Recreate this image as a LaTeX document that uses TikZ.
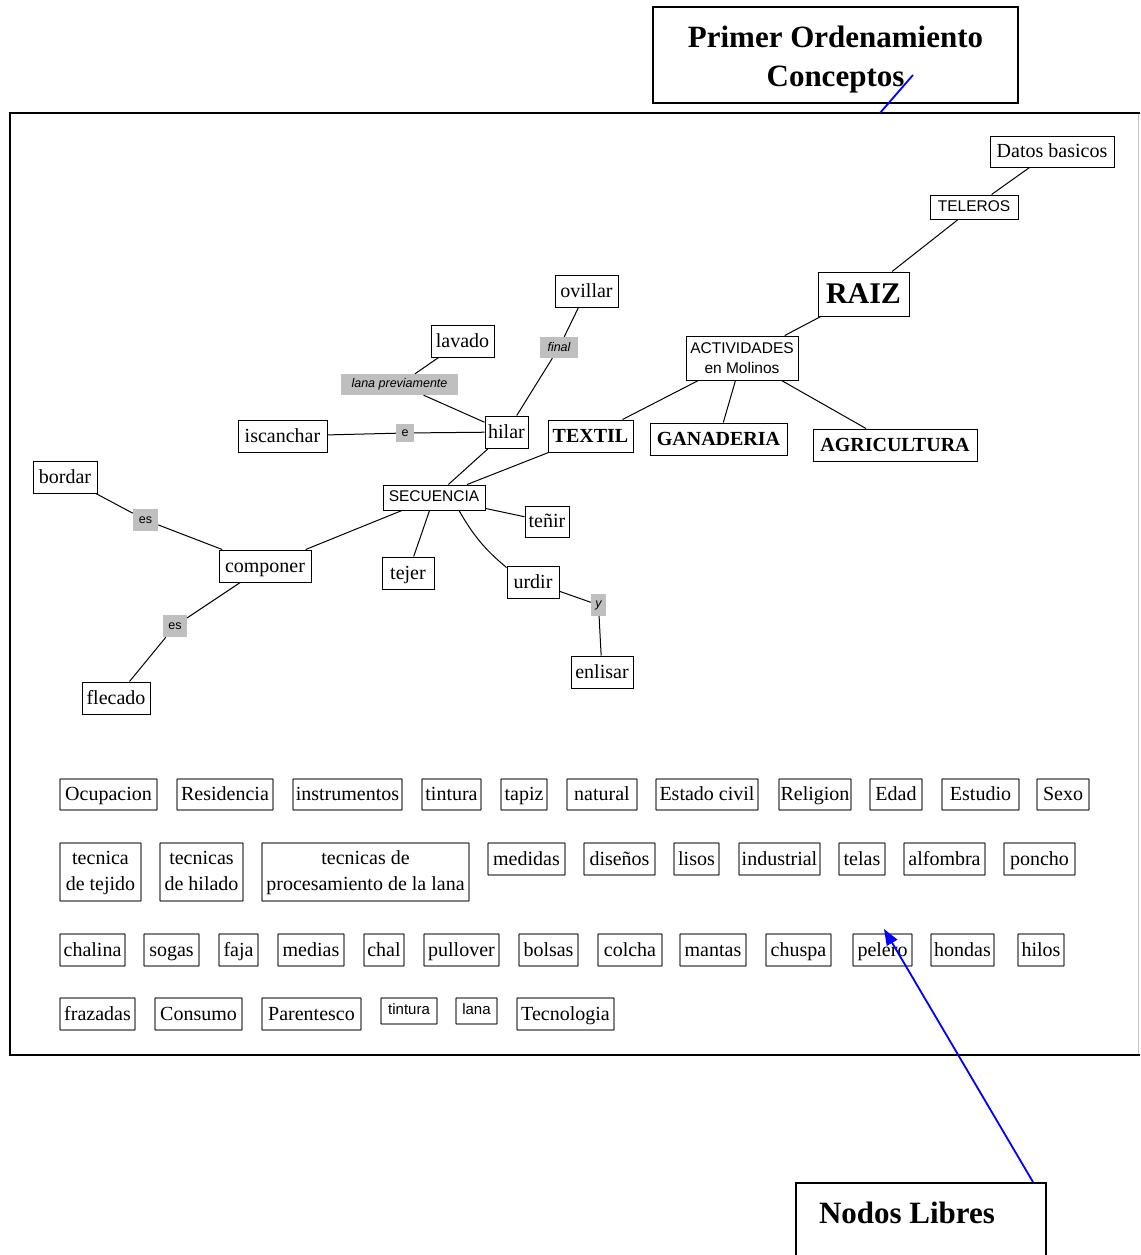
\documentclass[tikz,border=0pt]{standalone}
\usepackage{fontspec}
\setmainfont{Liberation Serif}
\setsansfont{Liberation Sans}
\usetikzlibrary{arrows.meta}
\newcommand\bx[7]{\node[#6, minimum width={#4pt-#2pt}, minimum height={#5pt-#3pt}] (#1) at ({(#2+#4)/2},{(#3+#5)/2}) {#7};}
\newcommand\dstrut{\rule[-5pt]{0pt}{5pt}}
\tikzset{
 cboxm/.style={draw=black, line width=1pt, inner sep=0pt, align=center, font=\fontsize{20}{26}\selectfont},
 cbox/.style={cboxm, text height=15pt, text depth=3pt},
 bbox/.style={cbox, font=\fontsize{20}{24}\selectfont\bfseries},
 sboxm/.style={cboxm, font=\fontsize{15.5}{20}\selectfont\sffamily},
 sbox/.style={sboxm, text height=11.5pt, text depth=2.8pt},
 freeboxm/.style={draw=black!75, line width=1.4pt, rounded corners=0.6pt, inner sep=0pt, align=center, font=\fontsize{20}{26}\selectfont},
 freebox/.style={freeboxm, text height=15pt, text depth=3pt},
 freesans/.style={freeboxm, font=\fontsize{15}{18}\selectfont\sffamily, text height=11pt, text depth=3.2pt},
 lbl/.style={fill=black!25, inner sep=0pt, font=\fontsize{12.5}{14}\selectfont\sffamily\itshape},
 lblup/.style={fill=black!25, inner sep=0pt, font=\fontsize{12.5}{14}\selectfont\sffamily},
 link/.style={draw=black, line width=1pt},
 callout/.style={draw=black, line width=1.8pt, inner sep=0pt, font=\fontsize{31}{39}\selectfont\bfseries, align=center},
 blueline/.style={draw=blue, line width=1.8pt},
}
\begin{document}
\begin{tikzpicture}[x=1pt,y=-1pt]
\useasboundingbox (0,0) rectangle (1140,1255);
\clip (0,0) rectangle (1140,1255);
\fill[white] (0,0) rectangle (1140,1255);
% frame
\draw[line width=2pt] (1140,113) -- (10,113) -- (10,1055) -- (1140,1055);
\draw[black!25, line width=1pt] (1138,114) -- (1138,1054);
% callouts
\node[callout, minimum width=365pt, minimum height=96pt] (title) at (835.5,55) {\rule{0pt}{30pt}Primer Ordenamiento\\Conceptos};
\node[draw=black, line width=1.8pt, minimum width=250pt, minimum height=110pt, anchor=north west, inner sep=0pt] (nodos) at (795,1182) {};
\node[font=\fontsize{31}{39}\selectfont\bfseries, inner sep=0pt] (nodostxt) at (907,1213) {Nodos Libres};
% concept map nodes
\bx{datos}{990}{136}{1114}{167}{cbox}{Datos basicos}
\bx{teleros}{930}{195}{1018}{219}{sbox}{TELEROS}
\bx{raiz}{818}{272}{909}{316}{cboxm, font=\fontsize{30}{34}\selectfont\bfseries}{RAIZ}
\bx{activ}{686}{336}{798}{380}{sboxm}{ACTIVIDADES\\en Molinos}
\bx{textil}{548}{420}{633}{452}{bbox}{TEXTIL}
\bx{ganad}{650}{423}{787}{455}{bbox}{GANADERIA}
\bx{agri}{813}{429}{977}{461}{bbox}{AGRICULTURA}
\bx{ovillar}{555}{275}{618}{307}{cbox}{ovillar}
\bx{lavado}{431}{325}{494}{357}{cbox}{lavado}
\bx{lanap}{341}{374}{458}{395}{lbl}{lana previamente}
\bx{final}{540}{337}{578}{358}{lbl}{final}
\bx{iscanchar}{238}{420}{327}{452}{cbox}{iscanchar}
\bx{lble}{396}{424}{414}{442}{lblup}{e}
\bx{hilar}{485}{416}{528}{448}{cbox}{hilar}
\bx{secuencia}{383}{485}{485}{510}{sbox}{SECUENCIA}
\bx{bordar}{33}{461}{97}{493}{cbox}{bordar}
\bx{esa}{133}{509}{158}{531}{lblup}{es}
\bx{componer}{219}{550}{311}{582}{cbox}{componer}
\bx{esb}{163}{615}{187}{637}{lblup}{es}
\bx{flecado}{82}{682}{150}{714}{cbox}{flecado}
\bx{tejer}{382}{557}{434}{589}{cbox}{tejer}
\bx{tenir}{525}{506}{569}{537}{cbox}{teñir}
\bx{urdir}{507}{566}{559}{598}{cbox}{urdir}
\bx{lbly}{591}{594}{606}{616}{lbl}{y}
\bx{enlisar}{571}{656}{633}{688}{cbox}{enlisar}
% connectors
\draw[link] (datos) -- (teleros);
\draw[link] (teleros) -- (raiz);
\draw[link] (raiz) -- (activ);
\draw[link] (activ) -- (textil);
\draw[link] (activ) -- (ganad);
\draw[link] (activ) -- (agri);
\draw[link] (textil) -- (secuencia);
\draw[link] (hilar) -- (secuencia);
\draw[link] (lavado) -- (lanap);
\draw[link] (lanap) -- (hilar);
\draw[link] (ovillar) -- (final);
\draw[link] (final) -- (hilar);
\draw[link] (iscanchar) -- (lble);
\draw[link] (lble) -- (hilar);
\draw[link] (secuencia) -- (componer);
\draw[link] (componer) -- (esa);
\draw[link] (esa) -- (bordar);
\draw[link] (componer) -- (esb);
\draw[link] (esb) -- (flecado);
\draw[link] (secuencia) -- (tejer);
\draw[link] (secuencia) -- (tenir);
\draw[link] ([xshift=25pt]secuencia.south) to[out=-60,in=140] ([yshift=-2pt]urdir.north west);
\draw[link] (urdir) -- (lbly);
\draw[link] (lbly) -- (enlisar);
% free nodes row 1
\bx{f1}{60}{779}{157}{810}{freebox}{Ocupacion}
\bx{f2}{177}{779}{273}{810}{freebox}{Residencia}
\bx{f3}{293}{779}{402}{810}{freebox}{instrumentos}
\bx{f4}{422}{779}{481}{810}{freebox}{tintura}
\bx{f5}{501}{779}{547}{810}{freebox}{tapiz}
\bx{f6}{567}{779}{637}{810}{freebox}{natural}
\bx{f7}{656}{779}{758}{810}{freebox}{Estado civil}
\bx{f8}{779}{779}{851}{810}{freebox}{Religion}
\bx{f9}{870}{779}{922}{810}{freebox}{Edad}
\bx{f10}{942}{779}{1019}{810}{freebox}{Estudio}
\bx{f11}{1037}{779}{1089}{810}{freebox}{Sexo}
% row 2
\bx{g1}{60}{843}{141}{901}{freeboxm}{\rule{0pt}{16pt}tecnica\\de tejido\dstrut}
\bx{g2}{160}{843}{243}{901}{freeboxm}{\rule{0pt}{16pt}tecnicas\\de hilado\dstrut}
\bx{g3}{262}{843}{469}{901}{freeboxm}{\rule{0pt}{16pt}tecnicas de\\procesamiento de la lana\dstrut}
\bx{g4}{488}{843}{565}{875}{freebox}{medidas}
\bx{g5}{584}{843}{655}{875}{freebox}{diseños}
\bx{g6}{674}{843}{719}{875}{freebox}{lisos}
\bx{g7}{739}{843}{820}{875}{freebox}{industrial}
\bx{g8}{839}{843}{885}{875}{freebox}{telas}
\bx{g9}{904}{843}{985}{875}{freebox}{alfombra}
\bx{g10}{1004}{843}{1075}{875}{freebox}{poncho}
% row 3
\bx{h1}{60}{934}{125}{966}{freebox}{chalina}
\bx{h2}{144}{934}{199}{966}{freebox}{sogas}
\bx{h3}{219}{934}{258}{966}{freebox}{faja}
\bx{h4}{278}{934}{344}{966}{freebox}{medias}
\bx{h5}{364}{934}{404}{966}{freebox}{chal}
\bx{h6}{424}{934}{499}{966}{freebox}{pullover}
\bx{h7}{519}{934}{578}{966}{freebox}{bolsas}
\bx{h8}{598}{934}{662}{966}{freebox}{colcha}
\bx{h9}{680}{934}{746}{966}{freebox}{mantas}
\bx{h10}{766}{934}{831}{966}{freebox}{chuspa}
\bx{h11}{853}{934}{912}{966}{freebox}{pelero}
\bx{h12}{931}{934}{994}{966}{freebox}{hondas}
\bx{h13}{1018}{934}{1064}{966}{freebox}{hilos}
% row 4
\bx{k1}{60}{998}{135}{1030}{freebox}{frazadas}
\bx{k2}{155}{998}{242}{1030}{freebox}{Consumo}
\bx{k3}{262}{998}{361}{1030}{freebox}{Parentesco}
\bx{k4}{381}{998}{437}{1024}{freesans}{tintura}
\bx{k5}{456}{998}{497}{1024}{freesans}{lana}
\bx{k6}{517}{998}{614}{1030}{freebox}{Tecnologia}
% blue pointers
\coordinate (tA) at (880,113);
\coordinate (tB) at (913,75);
\draw[blueline] (tA) -- (tB);
\coordinate (arrtail) at (1033,1182);
\coordinate (arrtip) at (884,929);
\draw[blueline, -{Triangle[length=16pt,width=12pt]}] (arrtail) -- (arrtip);
\end{tikzpicture}
\end{document}
